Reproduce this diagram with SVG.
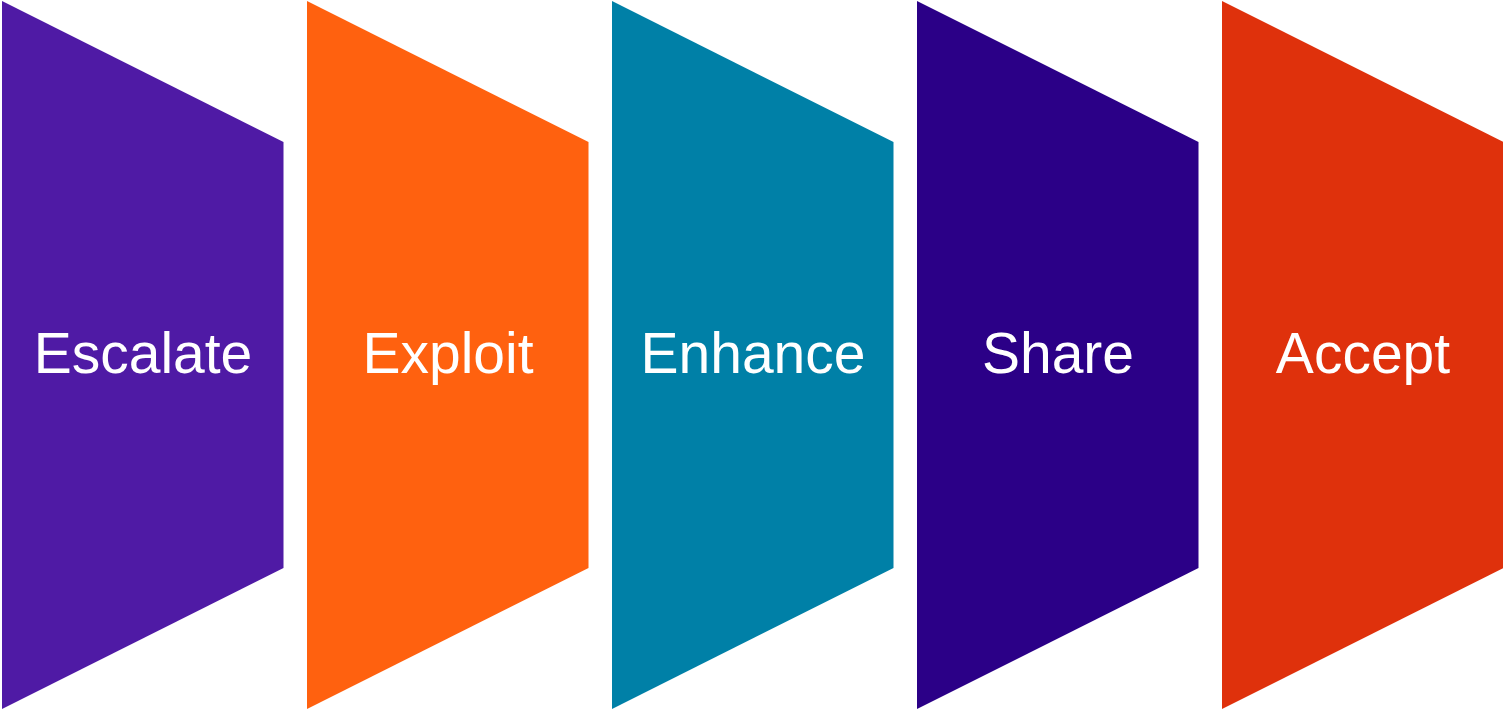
<svg xmlns="http://www.w3.org/2000/svg" width="1503" height="713" viewBox="0 0 1503 713">
<style>
.lbl{font-family:"Liberation Sans",Arial,sans-serif;font-size:57px;fill:#fff;text-anchor:middle}
</style>
<defs>
<polygon id="shape" points="0,1 281.5,142 281.5,568 0,709"/>
</defs>
<rect width="1503" height="713" fill="#fff"/>
<g id="n1"><use href="#shape" x="2" fill="#4F1AA5"/><text class="lbl" x="143" y="373">Escalate</text></g>
<g id="n2"><use href="#shape" x="307" fill="#FF610F"/><text class="lbl" x="448" y="373">Exploit</text></g>
<g id="n3"><use href="#shape" x="612" fill="#0080A7"/><text class="lbl" x="753" y="373">Enhance</text></g>
<g id="n4"><use href="#shape" x="917" fill="#2B0087"/><text class="lbl" x="1058" y="373">Share</text></g>
<g id="n5"><use href="#shape" x="1222" fill="#DF310C"/><text class="lbl" x="1363" y="373">Accept</text></g>
<g id="connectors"/>
</svg>
